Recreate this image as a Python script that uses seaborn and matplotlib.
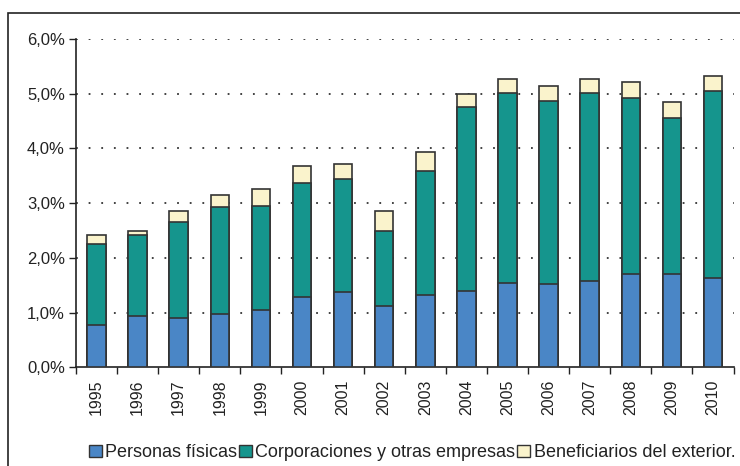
import pandas as pd
import matplotlib.pyplot as plt
import seaborn as sns
from matplotlib.patches import Patch, Rectangle
from matplotlib.ticker import FuncFormatter, FixedLocator

# values (% of GDP), cumulative tops of each layer
years = [str(y) for y in range(1995, 2011)]
personas = [0.77, 0.94, 0.90, 0.97, 1.04, 1.29, 1.37, 1.12, 1.32, 1.40, 1.54, 1.52, 1.57, 1.70, 1.70, 1.64]
corporaciones_top = [2.26, 2.41, 2.65, 2.92, 2.94, 3.37, 3.44, 2.49, 3.59, 4.76, 5.01, 4.87, 5.01, 4.91, 4.56, 5.04]
total = [2.41, 2.49, 2.85, 3.15, 3.25, 3.67, 3.72, 2.86, 3.94, 4.99, 5.26, 5.13, 5.26, 5.21, 4.84, 5.32]
labels = ["Personas físicas", "Corporaciones y otras empresas", "Beneficiarios del exterior."]
colors = ["#4a86c6", "#15958d", "#faf3cc"]

df = pd.DataFrame({"year": years, "personas": personas,
                   "corp": corporaciones_top, "total": total})

sns.set_style("white")
plt.rcParams['font.family'] = ['Liberation Sans', 'DejaVu Sans']

fig = plt.figure(figsize=(7.4, 4.66), dpi=100)
ax = fig.add_axes([0.1027, 0.2118, 0.8886, 0.7049])

edge = "#333333"
for col, c in zip(["total", "corp", "personas"], colors[::-1]):
    sns.barplot(data=df, x="year", y=col, color=c, width=0.45, saturation=1,
                edgecolor=edge, linewidth=1.2, ax=ax, zorder=3)

ax.set_xlim(-0.5, len(years) - 0.5)
ax.set_ylim(0, 6)
ax.set_yticks([0, 1, 2, 3, 4, 5, 6])
ax.yaxis.set_major_formatter(FuncFormatter(lambda v, p: f"{v:.1f}%".replace(".", ",")))
ax.set_xlabel("")
ax.set_ylabel("")

# dotted grid
for v in range(1, 7):
    ax.axhline(v, color="#333333", linestyle=(0, (1, 6)), linewidth=1.3, zorder=1)

for s in ["top", "right"]:
    ax.spines[s].set_visible(False)
for s in ["left", "bottom"]:
    ax.spines[s].set_color("#222222")
    ax.spines[s].set_linewidth(1.2)

ax.tick_params(axis="y", direction="out", length=5, width=1, color="#222222",
               labelsize=12, labelcolor="#222222", left=True, pad=3)
ax.tick_params(axis="x", which="major", length=0, labelsize=11.5, labelcolor="#222222",
               labelrotation=90, pad=9)
ax.xaxis.set_minor_locator(FixedLocator([i - 0.5 for i in range(len(years) + 1)]))
ax.tick_params(axis="x", which="minor", direction="out", length=5, width=1,
               color="#222222", bottom=True)

handles = [Patch(facecolor=c, edgecolor=edge, linewidth=1) for c in colors]
fig.legend(handles, labels, loc="center", bbox_to_anchor=(0.557, 0.028), ncol=3,
           frameon=False, fontsize=13, handlelength=0.7, handleheight=0.7,
           handletextpad=0.2, columnspacing=0.1, labelcolor="#222222")

# outer frame (cropped box)
fig.add_artist(Rectangle((8 / 740, -0.2), 2, 1.2 - 13 / 466, transform=fig.transFigure,
                         fill=False, edgecolor="#222222", linewidth=1.2, clip_on=False))

fig.savefig("out.png", dpi=100)
